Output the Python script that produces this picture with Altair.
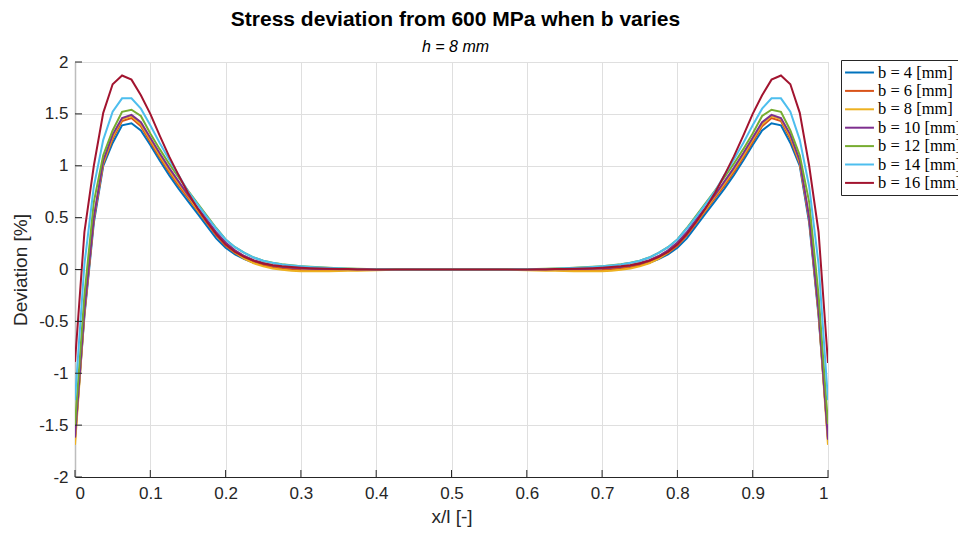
import altair as alt
import pandas as pd

x_pos = [i * 0.0125 for i in range(81)]

labels = ["b = 4 [mm]", "b = 6 [mm]", "b = 8 [mm]", "b = 10 [mm]",
          "b = 12 [mm]", "b = 14 [mm]", "b = 16 [mm]"]
colors = ["#0072BD", "#D95319", "#EDB120", "#7E2F8E", "#77AC30", "#4DBEEE", "#A2142F"]

b4_left = [-1.62, -0.45, 0.45, 1.00, 1.22, 1.39, 1.41, 1.34, 1.20, 1.05, 0.91, 0.78, 0.66, 0.54,
           0.42, 0.30, 0.21, 0.145, 0.10, 0.065, 0.045, 0.032, 0.022, 0.015, 0.011, 0.008, 0.006,
           0.004, 0.003, 0.002, 0.001, 0.001, 0, 0, 0, 0, 0, 0, 0, 0, 0]
b4_right = [0, 0, 0, 0, 0, 0, 0, 0, 0.001, 0.001, 0.002, 0.003, 0.004, 0.006, 0.008, 0.011, 0.015,
            0.022, 0.032, 0.045, 0.065, 0.10, 0.145, 0.21, 0.30, 0.42, 0.54, 0.66, 0.78, 0.91, 1.05,
            1.20, 1.34, 1.41, 1.39, 1.22, 1.00, 0.45, -0.45, -1.62]

b6_left = [-1.64, -0.42, 0.48, 1.02, 1.26, 1.43, 1.46, 1.38, 1.23, 1.08, 0.94, 0.81, 0.69, 0.57,
           0.45, 0.33, 0.23, 0.16, 0.105, 0.065, 0.04, 0.022, 0.01, 0.002, -0.004, -0.007, -0.008,
           -0.008, -0.007, -0.006, -0.005, -0.004, -0.003, -0.002, -0.001, -0.001, 0, 0, 0, 0, 0]
b6_right = [0, 0, 0, 0, -0.001, -0.001, -0.002, -0.003, -0.004, -0.005, -0.006, -0.007, -0.008,
            -0.008, -0.007, -0.004, 0.002, 0.01, 0.022, 0.04, 0.065, 0.105, 0.16, 0.23, 0.33, 0.45,
            0.57, 0.69, 0.81, 0.94, 1.08, 1.23, 1.38, 1.46, 1.43, 1.26, 1.02, 0.48, -0.42, -1.64]

b8_left = [-1.69, -0.42, 0.50, 1.03, 1.28, 1.45, 1.48, 1.40, 1.25, 1.10, 0.96, 0.83, 0.71, 0.58,
           0.46, 0.34, 0.24, 0.165, 0.105, 0.06, 0.03, 0.01, -0.003, -0.011, -0.016, -0.018, -0.018,
           -0.017, -0.015, -0.013, -0.011, -0.009, -0.007, -0.005, -0.004, -0.003, -0.002, -0.001,
           -0.001, 0, 0]
b8_right = [0, -0.001, -0.001, -0.002, -0.003, -0.004, -0.005, -0.007, -0.009, -0.011, -0.013,
            -0.015, -0.017, -0.018, -0.018, -0.016, -0.011, -0.003, 0.01, 0.03, 0.06, 0.105, 0.165,
            0.24, 0.34, 0.46, 0.58, 0.71, 0.83, 0.96, 1.10, 1.25, 1.40, 1.48, 1.45, 1.28, 1.03, 0.50,
            -0.42, -1.69]

b10_left = [-1.62, -0.40, 0.50, 1.05, 1.30, 1.46, 1.49, 1.42, 1.27, 1.12, 0.98, 0.85, 0.72, 0.60,
            0.48, 0.36, 0.26, 0.185, 0.13, 0.09, 0.062, 0.042, 0.028, 0.019, 0.013, 0.009, 0.006,
            0.004, 0.003, 0.002, 0.001, 0.001, 0, 0, 0, 0, 0, 0, 0, 0, 0]
b10_right = [0, 0, 0, 0, 0, 0, 0, 0, 0.001, 0.001, 0.002, 0.003, 0.004, 0.006, 0.009, 0.013, 0.019,
             0.028, 0.042, 0.062, 0.09, 0.13, 0.185, 0.26, 0.36, 0.48, 0.60, 0.72, 0.85, 0.98, 1.12,
             1.27, 1.42, 1.49, 1.46, 1.30, 1.05, 0.50, -0.40, -1.64]

b12_left = [-1.50, -0.25, 0.65, 1.10, 1.34, 1.52, 1.54, 1.48, 1.31, 1.16, 1.02, 0.89, 0.76, 0.64,
            0.52, 0.40, 0.29, 0.215, 0.16, 0.115, 0.085, 0.065, 0.05, 0.04, 0.032, 0.026, 0.021,
            0.016, 0.012, 0.009, 0.007, 0.005, 0.004, 0.003, 0.002, 0.001, 0.001, 0, 0, 0, 0]
b12_right = [0, 0, 0, 0.001, 0.001, 0.002, 0.003, 0.004, 0.005, 0.007, 0.009, 0.012, 0.016, 0.021,
             0.026, 0.032, 0.04, 0.05, 0.065, 0.085, 0.115, 0.16, 0.215, 0.29, 0.40, 0.52, 0.64,
             0.76, 0.89, 1.02, 1.16, 1.31, 1.48, 1.54, 1.52, 1.34, 1.10, 0.65, -0.25, -1.49]

b14_left = [-1.26, 0.05, 0.80, 1.25, 1.52, 1.65, 1.65, 1.55, 1.39, 1.22, 1.06, 0.91, 0.755, 0.63,
            0.51, 0.395, 0.29, 0.215, 0.16, 0.115, 0.085, 0.064, 0.049, 0.039, 0.031, 0.025, 0.02,
            0.015, 0.011, 0.008, 0.006, 0.004, 0.003, 0.002, 0.001, 0.001, 0, 0, 0, 0, 0]
b14_right = [0, 0, 0, 0, 0.001, 0.001, 0.002, 0.003, 0.004, 0.006, 0.008, 0.011, 0.015, 0.02,
             0.025, 0.031, 0.039, 0.049, 0.064, 0.085, 0.115, 0.16, 0.215, 0.29, 0.395, 0.51, 0.63,
             0.755, 0.91, 1.06, 1.22, 1.39, 1.55, 1.65, 1.65, 1.52, 1.25, 0.80, 0.05, -1.26]

b16_left = [-0.89, 0.36, 1.00, 1.51, 1.785, 1.87, 1.83, 1.68, 1.50, 1.29, 1.09, 0.91, 0.74, 0.59,
            0.46, 0.34, 0.24, 0.17, 0.12, 0.083, 0.058, 0.042, 0.031, 0.023, 0.017, 0.013, 0.01,
            0.007, 0.005, 0.004, 0.003, 0.002, 0.001, 0.001, 0, 0, 0, 0, 0, 0, 0]
b16_right = [0, 0, 0, 0, 0, 0, 0.001, 0.001, 0.002, 0.003, 0.004, 0.005, 0.007, 0.01, 0.013, 0.017,
             0.023, 0.031, 0.042, 0.058, 0.083, 0.12, 0.17, 0.24, 0.34, 0.46, 0.59, 0.74, 0.91,
             1.09, 1.29, 1.50, 1.68, 1.83, 1.87, 1.785, 1.51, 1.00, 0.36, -0.90]

series = [b4_left + b4_right, b6_left + b6_right, b8_left + b8_right, b10_left + b10_right,
          b12_left + b12_right, b14_left + b14_right, b16_left + b16_right]

x_ticks = [0, 0.1, 0.2, 0.3, 0.4, 0.5, 0.6, 0.7, 0.8, 0.9, 1]
y_ticks = [-2, -1.5, -1, -0.5, 0, 0.5, 1, 1.5, 2]

rows = []
for s, (lab, vals) in enumerate(zip(labels, series)):
    assert len(vals) == 81, (lab, len(vals))
    for xv, yv in zip(x_pos, vals):
        rows.append({"x": xv, "dev": yv, "series": lab, "idx": s})
df = pd.DataFrame(rows)

FONT = "Liberation Sans"
INK = "#262626"
lab_expr = "replace(format(datum.value, '~g'), '\u2212', '-')"

W, H = 753, 415

xscale = alt.Scale(domain=[0, 1], nice=False, zero=False)
yscale = alt.Scale(domain=[-2, 2], nice=False, zero=False)

xaxis = alt.Axis(values=x_ticks, labelExpr=lab_expr, title="x/l [-]",
                 ticks=False, tickSize=0, labelPadding=8, titlePadding=6,
                 domainColor=INK, domainWidth=1,
                 grid=True, gridColor="#dfdfdf", gridWidth=1,
                 labelFont=FONT, labelFontSize=17, labelColor=INK,
                 titleFont=FONT, titleFontSize=19, titleFontWeight="normal",
                 titleColor=INK)
yaxis = alt.Axis(values=y_ticks, labelExpr=lab_expr, title="Deviation [%]",
                 ticks=False, tickSize=0, labelPadding=7, titlePadding=8,
                 domainColor="#bdbdbd", domainWidth=1.5,
                 grid=True, gridColor="#dfdfdf", gridWidth=1,
                 labelFont=FONT, labelFontSize=17, labelColor=INK,
                 titleFont=FONT, titleFontSize=19, titleFontWeight="normal",
                 titleColor=INK)

lines = alt.Chart(df).mark_line(strokeWidth=2, clip=True).encode(
    x=alt.X("x:Q", scale=xscale, axis=xaxis, title="x/l [-]"),
    y=alt.Y("dev:Q", scale=yscale, axis=yaxis, title="Deviation [%]"),
    color=alt.Color("series:N", sort=labels,
                    scale=alt.Scale(domain=labels, range=colors),
                    legend=alt.Legend(orient="none", legendX=766, legendY=-2, title=None,
                                      strokeColor=INK, fillColor="white", padding=3,
                                      symbolType="M-1.7,0L1.7,0", symbolSize=289,
                                      symbolOffset=6, symbolStrokeWidth=2,
                                      labelFont="Liberation Serif",
                                      labelFontSize=16.5, labelColor="black", rowPadding=0.4,
                                      labelOffset=9, labelLimit=200)),
    order=alt.Order("x:Q"),
)

xt = alt.Chart(pd.DataFrame({"x": x_ticks})).mark_rule(color=INK, strokeWidth=1).encode(
    x=alt.X("x:Q", scale=xscale, axis=xaxis, title="x/l [-]"),
    y=alt.value(H), y2=alt.value(H - 7),
)
yt = alt.Chart(pd.DataFrame({"dev": y_ticks})).mark_rule(color=INK, strokeWidth=1).encode(
    y=alt.Y("dev:Q", scale=yscale, axis=yaxis, title="Deviation [%]"),
    x=alt.value(0), x2=alt.value(7),
)

chart = alt.layer(lines, xt, yt).properties(
    width=W, height=H,
    title=alt.Title("Stress deviation from 600 MPa when b varies", subtitle="h = 8 mm",
                    font=FONT, fontSize=21, fontWeight="bold", color="black",
                    subtitleFont=FONT, subtitleFontSize=16, subtitleFontStyle="italic",
                    subtitleColor="black", subtitlePadding=9, anchor="middle", offset=-2, dx=4),
    autosize=alt.AutoSizeParams(type="none"),
    padding={"left": 75, "top": 62, "right": 130, "bottom": 56},
).configure_view(stroke=None).configure(background="white")

chart.save("out.html", embed_options={"renderer": "svg", "actions": False})
